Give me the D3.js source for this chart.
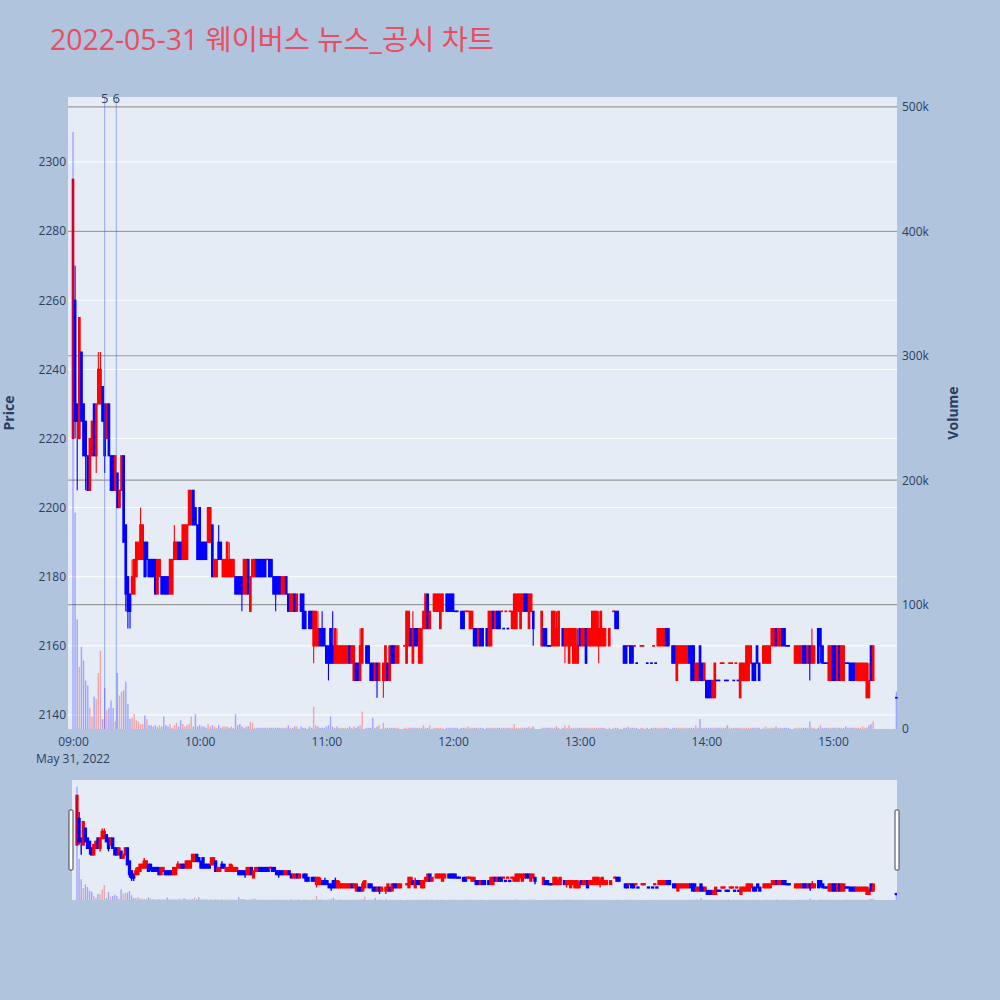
<!DOCTYPE html>
<html><head><meta charset="utf-8">
<script src="https://cdn.jsdelivr.net/npm/d3@7"></script>
<style>
body{margin:0;background:#b0c4de;}
svg{display:block}
text{font-family:"Open Sans","Noto Sans CJK KR",sans-serif;}
</style>
</head><body>
<svg id="chart" width="1000" height="1000"></svg>
<script>
// ---- DATA (minutes after 09:00, 2022-05-31) ----
const minutes = [
0,1,2,3,4,5,6,7,8,9,
10,11,12,13,14,15,16,17,18,19,
20,21,22,23,24,25,26,27,28,29,
30,31,32,33,34,35,36,37,38,39,
40,41,42,43,44,45,46,47,48,49,
50,51,52,53,54,55,56,57,58,59,
60,61,62,63,64,65,66,67,68,69,
70,71,72,73,74,75,76,77,78,79,
80,81,82,83,84,85,86,87,88,89,
90,91,92,93,94,95,96,97,98,99,
100,101,102,103,104,105,106,108,109,110,
112,113,114,115,116,117,118,119,120,121,
122,123,124,125,126,127,128,129,130,131,
132,133,134,135,136,137,139,140,141,142,
143,144,145,147,148,149,150,151,152,153,
154,157,158,159,160,161,162,163,164,165,
166,167,168,169,171,172,173,174,175,177,
178,179,180,181,182,184,185,186,187,188,
189,190,191,192,193,194,196,197,198,199,
200,201,202,203,204,205,206,207,208,209,
210,211,212,213,214,215,216,217,218,222,
223,224,225,226,227,228,229,230,232,233,
234,235,236,237,238,239,240,241,242,243,
244,245,246,247,248,249,250,251,252,254,
256,257,258,261,262,263,264,265,266,267,
269,270,272,274,275,276,277,278,279,280,
281,282,284,285,286,287,288,289,290,291,
292,293,294,295,296,297,298,299,300,301,
302,303,304,305,306,307,308,309,310,311,
312,313,314,315,316,317,318,319,320,321,
322,323,324,325,327,328,329,330,331,332,
333,334,335,336,337,338,339,342,343,344,
345,346,347,348,349,350,351,353,354,355,
356,357,358,359,360,361,362,363,364,365,
366,367,368,369,370,371,372,373,374,375,
376,377,378,379,390];

const opens = [
2220,2260,2230,2220,2245,2230,2225,2215,2205,2215,
2230,2215,2230,2230,2235,2230,2220,2230,2215,2215,
2205,2210,2200,2205,2215,2195,2180,2175,2175,2175,
2180,2185,2185,2185,2190,2190,2185,2185,2185,2185,
2175,2180,2180,2180,2180,2180,2175,2175,2185,2185,
2190,2190,2185,2185,2185,2195,2195,2205,2200,2195,
2200,2190,2190,2190,2190,2190,2195,2180,2180,2190,
2190,2180,2180,2180,2180,2180,2180,2180,2180,2180,
2180,2175,2175,2185,2170,2180,2180,2185,2185,2185,
2185,2185,2185,2185,2185,2180,2180,2180,2180,2175,
2175,2180,2175,2170,2170,2175,2170,2175,2175,2170,
2170,2170,2160,2160,2160,2165,2165,2165,2160,2160,
2165,2160,2155,2155,2155,2155,2155,2155,2155,2160,
2155,2150,2155,2155,2150,2155,2160,2160,2155,2155,
2150,2155,2150,2150,2150,2155,2150,2160,2160,2155,
2155,2160,2155,2160,2165,2155,2165,2165,2155,2155,
2165,2165,2175,2165,2170,2170,2170,2165,2170,2175,
2175,2175,2175,2170,2170,2170,2170,2170,2170,2165,
2165,2165,2165,2160,2165,2165,2165,2160,2160,2170,
2165,2170,2170,2170,2165,2170,2165,2170,2165,2165,
2165,2170,2165,2170,2175,2175,2165,2170,2170,2160,
2165,2165,2160,2160,2160,2160,2160,2160,2165,2160,
2160,2155,2160,2155,2155,2155,2165,2160,2160,2165,
2160,2160,2160,2160,2160,2160,2160,2160,2160,2160,
2170,2170,2170,2160,2160,2160,2160,2160,2160,2155,
2160,2160,2155,2155,2160,2155,2160,2160,2160,2160,
2165,2165,2160,2160,2150,2155,2155,2155,2155,2155,
2160,2160,2160,2150,2150,2160,2155,2150,2150,2150,
2150,2145,2145,2150,2150,2155,2155,2150,2150,2155,
2155,2150,2155,2150,2145,2150,2150,2150,2150,2155,
2155,2155,2160,2155,2155,2155,2155,2155,2160,2160,
2165,2160,2160,2165,2165,2160,2160,2155,2155,2155,
2155,2160,2160,2155,2160,2155,2155,2165,2165,2160,
2155,2155,2150,2150,2160,2160,2150,2160,2150,2150,
2155,2155,2155,2155,2155,2150,2150,2150,2150,2150,
2145,2145,2160,2150,2145];

const highs = [
2295,2270,2230,2255,2245,2230,2225,2215,2220,2225,
2230,2230,2245,2245,2235,2230,2230,2230,2215,2215,
2215,2210,2205,2215,2215,2195,2180,2175,2185,2185,
2190,2190,2200,2195,2190,2190,2185,2185,2185,2185,
2185,2185,2180,2180,2180,2180,2185,2185,2195,2190,
2190,2190,2195,2195,2195,2205,2205,2205,2200,2195,
2200,2190,2190,2190,2200,2200,2195,2185,2185,2195,
2190,2185,2185,2190,2190,2185,2185,2180,2180,2180,
2180,2185,2185,2185,2180,2185,2185,2185,2185,2185,
2185,2185,2185,2185,2185,2180,2180,2180,2180,2180,
2180,2180,2175,2175,2175,2175,2175,2175,2175,2170,
2170,2170,2170,2170,2170,2165,2170,2165,2160,2160,
2165,2170,2165,2165,2160,2160,2160,2160,2160,2160,
2160,2160,2155,2155,2165,2165,2160,2160,2155,2155,
2155,2155,2155,2155,2160,2155,2160,2160,2160,2160,
2160,2160,2170,2170,2165,2170,2165,2165,2165,2165,
2170,2175,2175,2170,2175,2175,2175,2175,2175,2175,
2175,2175,2175,2170,2170,2170,2170,2170,2170,2170,
2170,2165,2165,2165,2165,2165,2165,2170,2170,2170,
2170,2170,2170,2170,2165,2170,2165,2170,2170,2175,
2175,2175,2175,2175,2175,2175,2175,2175,2170,2170,
2165,2165,2160,2160,2170,2170,2170,2170,2165,2165,
2165,2165,2165,2165,2165,2165,2165,2165,2165,2165,
2165,2165,2170,2170,2170,2170,2170,2165,2165,2165,
2170,2170,2170,2160,2160,2160,2160,2160,2160,2155,
2160,2160,2155,2155,2160,2155,2165,2165,2165,2165,
2165,2165,2160,2160,2160,2160,2160,2160,2160,2160,
2160,2160,2160,2155,2155,2160,2155,2155,2150,2150,
2150,2150,2155,2150,2150,2155,2155,2150,2150,2155,
2155,2150,2155,2150,2155,2155,2155,2160,2160,2160,
2155,2155,2160,2155,2160,2160,2160,2160,2165,2165,
2165,2165,2165,2165,2165,2160,2160,2160,2160,2160,
2160,2160,2160,2160,2160,2165,2160,2165,2165,2160,
2155,2155,2160,2160,2160,2160,2160,2160,2160,2160,
2155,2155,2155,2155,2155,2155,2155,2155,2155,2155,
2155,2155,2160,2160,2145];

const lows = [
2220,2220,2205,2220,2225,2215,2205,2205,2205,2215,
2215,2210,2230,2230,2225,2210,2220,2215,2205,2205,
2205,2200,2200,2205,2190,2170,2165,2165,2175,2175,
2180,2185,2185,2185,2180,2180,2180,2180,2180,2175,
2175,2180,2175,2175,2175,2175,2175,2175,2185,2185,
2185,2185,2185,2185,2185,2195,2195,2195,2195,2185,
2185,2185,2185,2185,2190,2190,2180,2180,2180,2185,
2185,2180,2180,2180,2180,2180,2180,2175,2175,2175,
2170,2175,2175,2175,2170,2180,2180,2180,2180,2180,
2180,2180,2185,2180,2180,2175,2170,2175,2175,2175,
2175,2175,2170,2170,2170,2170,2170,2170,2165,2165,
2165,2165,2155,2160,2160,2160,2160,2160,2155,2150,
2155,2155,2155,2155,2155,2155,2155,2155,2155,2155,
2155,2150,2150,2150,2150,2155,2155,2155,2150,2150,
2150,2145,2150,2145,2150,2150,2150,2155,2155,2155,
2155,2160,2155,2160,2160,2155,2160,2160,2155,2155,
2165,2165,2165,2165,2170,2170,2170,2165,2170,2170,
2170,2170,2170,2170,2170,2165,2165,2170,2170,2165,
2165,2160,2160,2160,2160,2160,2160,2160,2160,2165,
2165,2165,2165,2170,2165,2170,2165,2170,2165,2165,
2165,2170,2165,2170,2170,2170,2165,2170,2160,2160,
2160,2160,2160,2160,2160,2160,2160,2160,2160,2155,
2160,2155,2160,2155,2155,2155,2160,2160,2160,2155,
2160,2160,2160,2160,2160,2155,2160,2160,2160,2160,
2170,2165,2165,2155,2155,2160,2155,2155,2160,2155,
2160,2160,2155,2155,2160,2155,2160,2160,2160,2160,
2160,2160,2155,2155,2150,2155,2155,2155,2155,2155,
2155,2150,2150,2150,2150,2150,2150,2150,2145,2145,
2145,2145,2145,2150,2150,2155,2155,2150,2150,2155,
2155,2150,2155,2150,2145,2150,2150,2150,2150,2155,
2150,2150,2155,2150,2155,2155,2155,2155,2160,2160,
2160,2160,2160,2160,2160,2160,2160,2155,2155,2155,
2155,2155,2155,2155,2150,2155,2155,2155,2155,2155,
2155,2155,2150,2150,2150,2150,2150,2150,2150,2150,
2155,2155,2150,2150,2150,2150,2150,2150,2150,2150,
2145,2145,2150,2150,2145];

const closes = [
2295,2225,2225,2255,2225,2215,2215,2205,2220,2225,
2215,2230,2240,2240,2225,2215,2230,2215,2205,2205,
2215,2200,2205,2215,2190,2175,2170,2170,2180,2185,
2190,2190,2195,2195,2180,2185,2180,2180,2180,2175,
2185,2185,2175,2175,2175,2175,2185,2185,2190,2190,
2185,2185,2195,2195,2195,2205,2205,2195,2195,2185,
2185,2185,2185,2185,2200,2200,2180,2185,2185,2185,
2185,2185,2185,2190,2185,2185,2185,2175,2175,2175,
2175,2185,2185,2175,2180,2185,2185,2180,2180,2180,
2180,2180,2185,2180,2180,2175,2175,2175,2175,2180,
2180,2175,2170,2175,2175,2170,2175,2170,2165,2165,
2165,2165,2170,2170,2165,2160,2160,2160,2155,2155,
2155,2155,2165,2160,2160,2160,2160,2160,2160,2155,
2160,2160,2150,2150,2160,2165,2155,2155,2150,2150,
2155,2150,2155,2155,2160,2150,2160,2155,2155,2160,
2160,2160,2170,2170,2160,2165,2160,2160,2165,2165,
2170,2175,2165,2170,2175,2175,2175,2175,2175,2170,
2170,2170,2170,2170,2170,2165,2165,2170,2170,2170,
2170,2160,2160,2165,2160,2160,2160,2170,2170,2165,
2170,2165,2165,2170,2165,2170,2165,2170,2170,2175,
2175,2175,2175,2175,2170,2170,2175,2175,2165,2170,
2160,2160,2160,2160,2170,2170,2165,2170,2160,2165,
2165,2165,2165,2165,2165,2160,2160,2165,2165,2155,
2165,2165,2170,2170,2170,2165,2170,2165,2165,2165,
2170,2165,2165,2155,2155,2160,2155,2155,2160,2155,
2160,2160,2155,2155,2160,2155,2165,2165,2165,2165,
2160,2160,2155,2155,2160,2160,2160,2160,2160,2160,
2155,2150,2150,2155,2155,2150,2150,2155,2145,2145,
2145,2150,2155,2150,2150,2155,2155,2150,2150,2155,
2155,2150,2155,2150,2155,2155,2155,2160,2160,2160,
2150,2150,2155,2150,2160,2160,2160,2160,2165,2165,
2160,2165,2165,2160,2160,2160,2160,2160,2160,2160,
2160,2155,2155,2160,2155,2160,2160,2155,2160,2155,
2155,2155,2160,2160,2150,2150,2160,2150,2160,2160,
2155,2155,2150,2150,2150,2155,2155,2155,2155,2155,
2155,2150,2150,2160,2145];

// volume in thousands of shares
const volumesK = [
480,174,88,50,66,55,39,35,17,10,
26,24,45,63,8,33,15,17,23,17,
6,45,27,30,31,38,20,8,9,12,
7,6,4,4,11,8,3,3,2,3,
2,3,2,10,3,2,4,1,3,5,
2,7,4,2,3,4,10,2,12,2,
3,2,2,1,4,2,3,2,1,3,
1,2,2,2,1,2,1,12,3,4,
2,1,2,2,6,5,1,1,1,1,
1,1,1,1,1,1,1,1,1,1,
1,1,3,1,1,2,2,2,1,1,
2,1,18,3,2,1,1,1,2,3,
10,2,1,2,1,1,1,1,1,2,
1,2,1,2,3,14,1,1,1,9,
1,2,3,5,1,1,1,1,1,1,
1,1,1,1,1,1,1,1,1,1,
3,1,1,3,1,1,1,1,1,1,
1,1,1,1,1,1,1,1,2,1,
1,1,1,1,1,1,1,1,1,1,
1,1,1,1,1,1,1,1,1,4,
1,1,1,1,1,1,2,1,2,1,
1,1,1,1,1,1,2,1,1,3,
1,3,1,1,1,1,1,1,1,1,
1,1,1,1,1,1,1,1,1,1,
1,1,1,1,1,2,1,1,1,1,
1,1,1,1,1,1,1,1,1,1,
1,1,1,1,1,1,1,1,1,1,
1,1,1,3,1,8,1,1,1,1,
1,1,1,1,1,1,1,1,3,1,
1,1,1,1,1,1,1,1,1,1,
1,1,1,1,1,2,1,1,1,1,
2,1,1,1,1,1,1,1,1,1,
1,1,1,1,6,1,1,1,3,1,
1,1,1,1,1,1,1,1,1,1,
2,1,1,1,1,1,1,1,2,1,
1,3,4,6,30];

const priceTicks = [2140,2160,2180,2200,2220,2240,2260,2280,2300];
const volumeTicksK = [0,100,200,300,400,500];
const eventMinutes = [15, 20.5];
const eventLabels = ["5","6"];
const titleText = "2022-05-31 웨이버스 뉴스_공시 차트";

// ---- LAYOUT ----
const W = 1000, H = 1000;
const P = {l:68, r:897, t:97, b:729};
const S = {l:72, r:897, t:780, b:900};
const svg = d3.select("#chart");
svg.append("rect").attr("width",W).attr("height",H).attr("fill","#b0c4de");

const base = new Date(2022,4,31,9,0,0);
const toDate = m => new Date(base.getTime() + m*60000);

const x = d3.scaleTime().domain([toDate(-2.37), toDate(390.3)]).range([P.l, P.r]);
const y = d3.scaleLinear().domain([2135.95, 2318.8]).range([P.b, P.t]);
const yv = d3.scaleLinear().domain([0, 508]).range([P.b, P.t]);

const xs = d3.scaleTime().domain(x.domain()).range([S.l, S.r]);
const ys = d3.scaleLinear().domain(y.domain()).range([S.b, S.t]);
const yvs = d3.scaleLinear().domain(yv.domain()).range([S.b, S.t]);

// candle objects with direction (ties: compare to previous close)
let prevInc = false, prevC = null;
const candles = minutes.map((m,i) => {
  const o = opens[i], c = closes[i];
  let inc;
  if (c > o) inc = true;
  else if (c < o) inc = false;
  else if (prevC !== null && c > prevC) inc = true;
  else if (prevC !== null && c < prevC) inc = false;
  else inc = prevInc;
  // volume colour: change versus previous close
  let vinc;
  if (prevC === null) vinc = false;
  else if (c > prevC) vinc = true;
  else if (c < prevC) vinc = false;
  else vinc = inc;
  prevInc = inc; prevC = c;
  return {t: toDate(m), o, h: highs[i], l: lows[i], c, v: volumesK[i], inc, vinc};
});

const RED = "#ff0000", BLUE = "#0000ff";

// plot background
svg.append("rect").attr("x",P.l).attr("y",P.t).attr("width",P.r-P.l).attr("height",P.b-P.t).attr("fill","#e5ecf6");

// price gridlines (white)
svg.append("g").selectAll("line").data(priceTicks).join("line")
  .attr("x1",P.l).attr("x2",P.r).attr("y1",d=>y(d)).attr("y2",d=>y(d))
  .attr("stroke","#ffffff").attr("stroke-width",1);
// volume gridlines (grey)
svg.append("g").selectAll("line").data(volumeTicksK.filter(d=>d>0)).join("line")
  .attr("x1",P.l).attr("x2",P.r).attr("y1",d=>yv(d)).attr("y2",d=>yv(d))
  .attr("stroke","#9a9a9a").attr("stroke-width",1.2);

function drawCandles(g, xsc, ysc, bodyW, strokeW, wickW){
  const cg = g.append("g");
  cg.selectAll("line.w").data(candles).join("line").attr("class","w")
    .attr("x1",d=>xsc(d.t)).attr("x2",d=>xsc(d.t))
    .attr("y1",d=>ysc(d.h)).attr("y2",d=>ysc(d.l))
    .attr("stroke",d=>d.inc?RED:BLUE).attr("stroke-width",wickW);
  cg.selectAll("rect.b").data(candles).join("rect").attr("class","b")
    .attr("x",d=>xsc(d.t)-bodyW/2).attr("width",bodyW)
    .attr("y",d=>ysc(Math.max(d.o,d.c)) - (d.o===d.c ? 0.25 : 0))
    .attr("height",d=>Math.max(0.5, Math.abs(ysc(d.o)-ysc(d.c))))
    .attr("fill",d=>d.inc?RED:BLUE)
    .attr("stroke",d=>d.inc?RED:BLUE).attr("stroke-width",strokeW);
}
function drawVolume(g, xsc, yvsc, barW){
  g.append("g").selectAll("rect").data(candles).join("rect")
    .attr("x",d=>xsc(d.t)-barW/2).attr("width",barW)
    .attr("y",d=>yvsc(d.v)).attr("height",d=>yvsc(0)-yvsc(d.v))
    .attr("fill",d=>d.vinc?RED:BLUE).attr("fill-opacity",0.3);
}

const main = svg.append("g");
drawCandles(main, x, y, 1.5, 1.2, 1.1);
drawVolume(main, x, yv, 1.4);

// event lines
const ev = svg.append("g");
ev.selectAll("line").data(eventMinutes).join("line")
  .attr("x1",d=>x(toDate(d))).attr("x2",d=>x(toDate(d)))
  .attr("y1",P.t).attr("y2",P.b)
  .attr("stroke","rgb(65,105,225)").attr("stroke-opacity",0.5).attr("stroke-width",1);
ev.selectAll("text").data(eventMinutes).join("text")
  .attr("x",d=>x(toDate(d))).attr("y",P.t+1)
  .attr("dy","0.35em").attr("text-anchor","middle")
  .attr("font-size",13).attr("fill","#2a3f5f")
  .text((d,i)=>eventLabels[i]);

// axes
const tickColor = "#2a3f5f";
const axL = svg.append("g").attr("transform",`translate(${P.l-2},0)`)
  .call(d3.axisLeft(y).tickValues(priceTicks).tickSize(0).tickPadding(0).tickFormat(d3.format("d")));
const axR = svg.append("g").attr("transform",`translate(${P.r+5},0)`)
  .call(d3.axisRight(yv).tickValues(volumeTicksK).tickSize(0).tickPadding(0).tickFormat(d => d===0 ? "0" : d+"k"));
const axB = svg.append("g").attr("transform",`translate(0,${P.b})`)
  .call(d3.axisBottom(x).ticks(d3.timeHour.every(1)).tickSize(0).tickPadding(8).tickFormat(d3.timeFormat("%H:%M")));
[axL,axR,axB].forEach(a=>{
  a.select(".domain").remove();
  a.selectAll("text").attr("font-size",12).attr("fill",tickColor).attr("font-family",'"Open Sans",sans-serif');
});
svg.append("text").attr("x",x(toDate(0))).attr("y",P.b+34).attr("text-anchor","middle")
  .attr("font-size",12).attr("fill",tickColor).text(d3.timeFormat("%b %-d, %Y")(base));

// axis titles
svg.append("text").attr("transform",`translate(14,${(P.t+P.b)/2}) rotate(-90)`)
  .attr("text-anchor","middle").attr("font-size",14).attr("font-weight","bold").attr("fill",tickColor).text("Price");
svg.append("text").attr("transform",`translate(958,${(P.t+P.b)/2}) rotate(-90)`)
  .attr("text-anchor","middle").attr("font-size",14).attr("font-weight","bold").attr("fill",tickColor).text("Volume");

// title
svg.append("text").attr("x",50).attr("y",50).attr("font-size",28.4).attr("fill","#ea4d62").text(titleText);

// range slider
svg.append("rect").attr("x",S.l).attr("y",S.t).attr("width",S.r-S.l).attr("height",S.b-S.t).attr("fill","#e5ecf6");
const sl = svg.append("g");
svg.append("clipPath").attr("id","sclip").append("rect")
  .attr("x",S.l).attr("y",S.t).attr("width",S.r-S.l).attr("height",S.b-S.t);
sl.attr("clip-path","url(#sclip)");
drawCandles(sl, xs, ys, 1.5, 1.8, 1.4);
drawVolume(sl, xs, yvs, 1.4);
[S.l-1, S.r].forEach(px=>{
  svg.append("rect").attr("x",px-2).attr("y",S.t+30).attr("width",4).attr("height",60)
    .attr("fill","#ffffff").attr("stroke","#444").attr("stroke-width",1).attr("rx",1);
});
</script>
</body></html>
